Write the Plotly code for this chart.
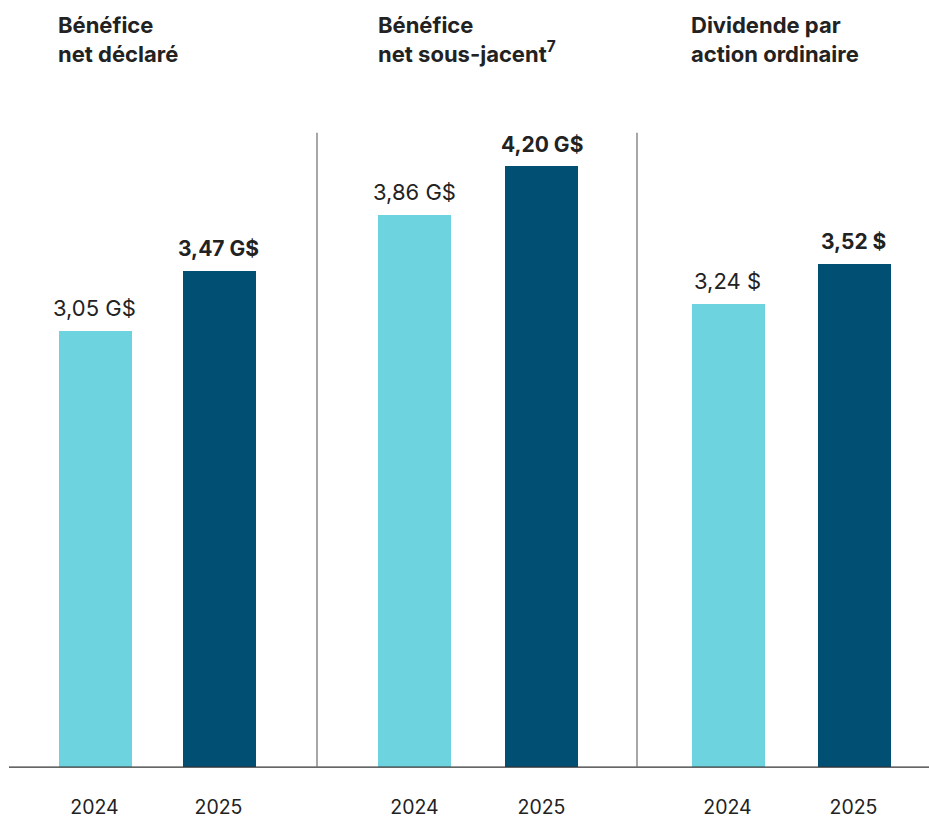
import plotly.graph_objects as go

W, H = 929, 819

panel_titles = ["Bénéfice<br>net déclaré", "Bénéfice<br>net sous-jacent<sup>7</sup>", "Dividende par<br>action ordinaire"]
years = ["2024", "2025"]
values_2024 = [3.05, 3.86, 3.24]
values_2025 = [3.47, 4.20, 3.52]
labels_2024 = ["3,05 G$", "3,86 G$", "3,24 $"]
labels_2025 = ["3,47 G$", "4,20 G$", "3,52 $"]

c2024 = "#6DD4DF"
c2025 = "#014F72"
txt = "#222222"
FONT = "Inter"

# layout in pixels
baseline_px = 769
px_per_unit = 143.3
ymax = 5.0
y_bottom = (H - baseline_px) / H
y_top = (H - (baseline_px - ymax * px_per_unit)) / H

panels = [  # (left, right, bar width fraction)
    (32.5, 280.5, 73 / 124),
    (351.0, 605.0, 73 / 127),
    (664.5, 916.5, 73 / 126),
]

fig = go.Figure()
for i in range(3):
    xa = "x" if i == 0 else f"x{i+1}"
    ya = "y" if i == 0 else f"y{i+1}"
    fig.add_trace(go.Bar(
        x=years, y=[values_2024[i], values_2025[i]],
        marker=dict(color=[c2024, c2025], line=dict(width=0)),
        width=panels[i][2], xaxis=xa, yaxis=ya, hoverinfo="skip",
    ))
    axkey = "xaxis" if i == 0 else f"xaxis{i+1}"
    aykey = "yaxis" if i == 0 else f"yaxis{i+1}"
    fig.layout[axkey] = dict(
        domain=[panels[i][0] / W, panels[i][1] / W], anchor=ya,
        type="category", range=[-0.5, 1.5], showgrid=False, zeroline=False,
        showline=False, ticks="", tickfont=dict(family=FONT, size=19.5, color=txt),
        ticklabelstandoff=26, fixedrange=True,
    )
    fig.layout[aykey] = dict(
        domain=[y_bottom, y_top], anchor=xa, range=[0, ymax], visible=False,
        fixedrange=True,
    )
    # value labels (category index positions)
    for j, (v, lab, bold) in enumerate([(values_2024[i], labels_2024[i], False),
                                         (values_2025[i], labels_2025[i], True)]):
        fig.add_annotation(
            x=j, y=v, xref=xa, yref=ya, text=f"<b>{lab}</b>" if bold else lab,
            showarrow=False, yanchor="bottom", yshift=8,
            font=dict(family=FONT, size=21 if bold else 22, color=txt),
        )
    # titles
    fig.add_annotation(
        x=[56, 376, 689][i] / W, y=1 - 10 / H, xref="paper", yref="paper",
        text=f"<b>{panel_titles[i]}</b>", showarrow=False, xanchor="left",
        yanchor="top", align="left", font=dict(family=FONT, size=22, color=txt),
    )

# baseline
fig.add_shape(type="line", xref="paper", yref="paper", x0=9 / W, x1=1,
              y0=y_bottom, y1=y_bottom, line=dict(color="#333333", width=1.3))
# separators
for sx in [317, 637]:
    fig.add_shape(type="line", xref="paper", yref="paper", x0=sx / W, x1=sx / W,
                  y0=y_bottom, y1=(H - 133) / H, line=dict(color="#777777", width=1.3))

fig.update_layout(
    width=W, height=H, margin=dict(l=0, r=0, t=0, b=0),
    paper_bgcolor="white", plot_bgcolor="white", showlegend=False,
    bargap=0,
)
fig.write_html("out.html", config={"displayModeBar": False},
               post_script="document.body.style.margin='0';document.body.style.overflow='hidden';")
